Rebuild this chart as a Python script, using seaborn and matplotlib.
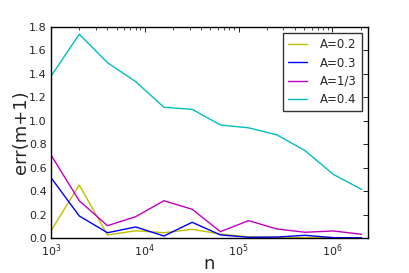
import numpy as np
import pandas as pd
import seaborn as sns
import matplotlib
matplotlib.use("Agg")
import matplotlib.pyplot as plt

# sample sizes (doubling from 1e3)
n_values = [1000, 2000, 4000, 8000, 16000, 32000, 64000, 128000,
            256000, 512000, 1024000, 2048000]

# error values, one list per A
err_a02 = [0.062, 0.452, 0.026, 0.062, 0.045, 0.074, 0.034, 0.010, 0.006, 0.004, 0.003, 0.002]
err_a03 = [0.515, 0.188, 0.045, 0.094, 0.017, 0.134, 0.026, 0.006, 0.008, 0.023, 0.003, 0.002]
err_a13 = [0.708, 0.318, 0.105, 0.182, 0.318, 0.245, 0.054, 0.148, 0.077, 0.049, 0.060, 0.032]
err_a04 = [1.380, 1.738, 1.496, 1.334, 1.115, 1.098, 0.964, 0.940, 0.880, 0.745, 0.543, 0.415]

labels = ["A=0.2", "A=0.3", "A=1/3", "A=0.4"]
colors = [(0.75, 0.75, 0), (0, 0, 1), (0.75, 0, 0.75), (0, 0.75, 0.75)]

# long-form table for seaborn
frames = []
for lab, errs in zip(labels, [err_a02, err_a03, err_a13, err_a04]):
    frames.append(pd.DataFrame({"n": n_values, "err": errs, "A": lab}))
data = pd.concat(frames, ignore_index=True)

sns.set_style("white")
plt.rcParams["font.family"] = ["DejaVu Sans"]
plt.rcParams["xtick.direction"] = "in"
plt.rcParams["ytick.direction"] = "in"

fig = plt.figure(figsize=(4.09, 2.73), dpi=100)
ax = fig.add_axes([51 / 409, 1 - 238 / 273, (368 - 51) / 409, (238 - 27) / 273])

sns.lineplot(data=data, x="n", y="err", hue="A", palette=colors,
             hue_order=labels, linewidth=1.0, ax=ax)

ax.set_xscale("log")
ax.set_xlim(1000, 2.4e6)
ax.set_ylim(0, 1.8)
ax.set_yticks(np.arange(0, 1.81, 0.2))
ax.set_yticklabels([f"{v:.1f}" for v in np.arange(0, 1.81, 0.2)])
ax.set_xlabel("n", fontsize=13, labelpad=-3)
ax.set_ylabel("err(m+1)", fontsize=13, labelpad=-1)
ax.tick_params(axis="both", which="both", labelsize=8, top=True, right=True,
               direction="in", color="black", pad=3)
ax.tick_params(which="major", length=3.5, width=0.6)
ax.tick_params(which="minor", length=2, width=0.5)
for sp in ax.spines.values():
    sp.set_color("black")
    sp.set_linewidth(1.0)

leg = ax.legend(loc="upper right", fontsize=8.5, frameon=True, fancybox=False,
                handlelength=1.6, borderpad=0.45, labelspacing=0.45,
                handletextpad=1.1, borderaxespad=0.5)
leg.get_frame().set_edgecolor("black")
leg.get_frame().set_linewidth(1.0)

fig.savefig("out.png", dpi=100)
